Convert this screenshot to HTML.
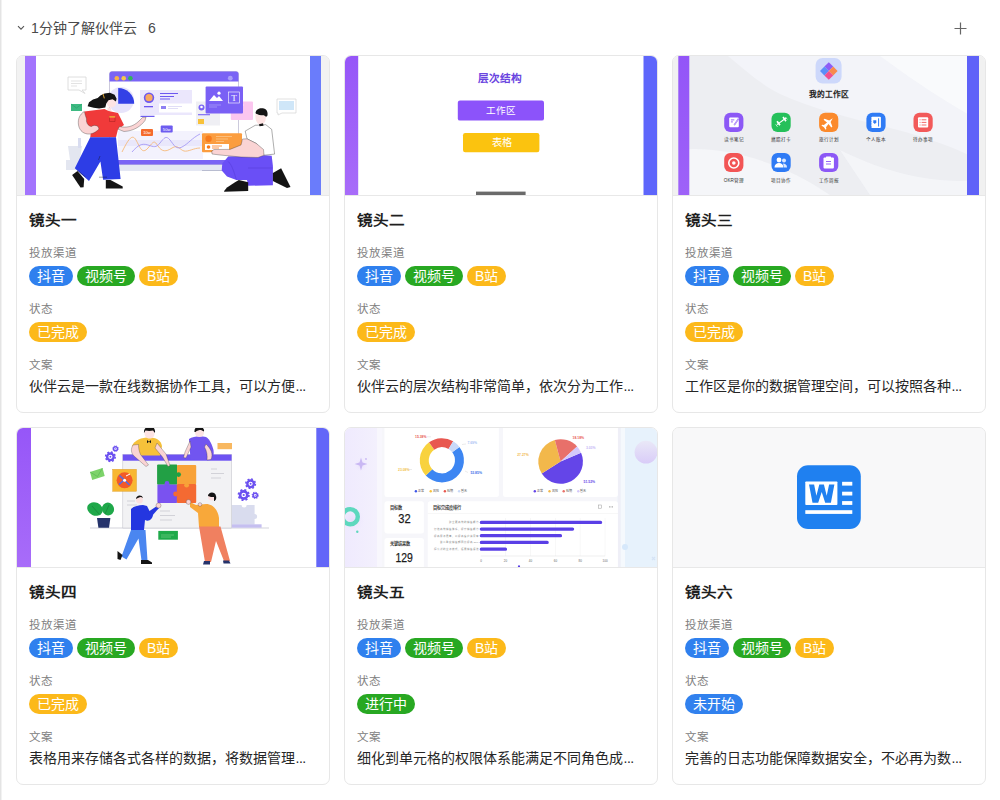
<!DOCTYPE html>
<html lang="zh-CN"><head><meta charset="utf-8"><title>1分钟了解伙伴云</title><style>
*{box-sizing:border-box;margin:0;padding:0}
html,body{width:1000px;height:800px;overflow:hidden;background:#fff}
body{position:relative;font-family:"Liberation Sans",sans-serif;color:#262626}
.lline{position:absolute;left:0;top:0;width:1px;height:800px;background:#e4e4e4;box-shadow:1px 0 0 #f2f2f2}
.hdr{position:absolute;left:0;top:0;width:1000px;height:55px}
.chev{position:absolute;left:17px;top:24px}
.htitle{position:absolute;left:31px;top:19px;font-size:14px;line-height:18px;color:#4a4a4a;white-space:nowrap}
.hcount{position:absolute;left:148px;top:19px;font-size:14px;line-height:18px;color:#4a4a4a}
.plus{position:absolute;left:954px;top:22px}
.card{position:absolute;width:314px;height:358px;border:1px solid #e7e7e7;border-radius:7px;overflow:hidden;background:#fff}
.img{position:absolute;left:0;top:0;width:312px;height:139px;overflow:hidden;background:#f2f2f2}
.img svg{position:absolute;left:0;top:0}
.div{position:absolute;left:0;top:139px;width:312px;height:1px;background:#e8e8e8}
.ttl{position:absolute;left:12px;top:153.5px;font-size:15.6px;line-height:22px;font-weight:bold;color:#1f1f1f;white-space:nowrap;transform:scaleY(0.91);transform-origin:0 0}
.lbl{position:absolute;left:12px;font-size:11.5px;letter-spacing:1px;line-height:16px;color:#808080;white-space:nowrap}
.tags{position:absolute;left:12px;display:flex;gap:4px}
.tag{height:20px;line-height:20px;padding:0 8px;border-radius:10px;color:#fff;font-size:14px;white-space:nowrap}
.b{background:#2f80ee}.g{background:#28a822}.y{background:#fcb91a}.bl{background:#3181ee}
.txt{position:absolute;left:12px;width:300px;font-size:14px;line-height:20px;color:#262626;white-space:nowrap}
.el{letter-spacing:-0.5px;margin-left:0.5px}
</style></head>
<body>
<div class="lline"></div>
<div class="hdr">
<svg class="chev" width="8" height="8" viewBox="0 0 8 8"><path d="M1 2.2 L4 5.2 L7 2.2" fill="none" stroke="#555" stroke-width="1.1"/></svg>
<div class="htitle">1分钟了解伙伴云</div>
<div class="hcount">6</div>
<svg class="plus" width="13" height="13" viewBox="0 0 13 13"><path d="M0.5 6.5H12.5M6.5 0.5V12.5" stroke="#666" stroke-width="1.2"/></svg>
</div>
<div class="card" style="left:16px;top:55px">
<div class="img"><svg width="312" height="139" viewBox="17 56 312 139">
<rect x="17" y="56" width="312" height="139" fill="#f2f2f2"/>
<rect x="25" y="56" width="296" height="139" fill="#fff"/>
<rect x="25" y="56" width="11" height="139" fill="#a374fd"/>
<rect x="310" y="56" width="11" height="139" fill="#6a7cfb"/>
<!-- left bubble -->
<path d="M68 77h18v13h-4l3 3.5l-6-3.5h-11z" fill="#fff" stroke="#d6d6d6" stroke-width="0.8"/>
<path d="M71 81h11M71 83.5h11M71 86h6" stroke="#dcdcdc" stroke-width="0.8"/>
<!-- envelope -->
<rect x="71" y="104" width="11" height="7" fill="#3dba82"/>
<path d="M71 104l5.5 4l5.5-4" fill="none" stroke="#2a9f6a" stroke-width="0.6"/>
<!-- gray cup/plant -->
<path d="M68 146h14l-2 14h-10z" fill="#e3e6f0"/>
<rect x="66" y="160" width="18" height="10" fill="#e3e6f0"/>
<rect x="78" y="138" width="3" height="10" fill="#d8dcf0"/>
<!-- window shadow/stand -->
<rect x="112" y="164" width="126" height="7" fill="#e4e7f3"/>
<rect x="202" y="170" width="20" height="1" fill="#b8bcd0"/>
<!-- browser window -->
<rect x="109.5" y="71.5" width="129" height="93" rx="2.5" fill="#fff" stroke="#a9a6c4" stroke-width="0.6"/>
<path d="M109.5 81.5v-7.5a2.5 2.5 0 0 1 2.5-2.5h124a2.5 2.5 0 0 1 2.5 2.5v7.5z" fill="#7a64f5"/>
<rect x="109.5" y="160" width="129" height="4.5" fill="#7a64f5"/>
<circle cx="116.8" cy="78.2" r="2.3" fill="#f7b24a"/>
<circle cx="123.7" cy="78.2" r="2.3" fill="#f5c84a"/>
<circle cx="130.4" cy="78.2" r="2.3" fill="#2fb45a"/>
<circle cx="230.3" cy="78.2" r="2.4" fill="#a99ff7"/>
<!-- pie -->
<circle cx="121" cy="100" r="13" fill="#e7e4fb"/>
<path d="M118.2 103.8V88A16 16 0 0 1 134.2 103.8z" fill="#3341e6"/>
<!-- avatar card -->
<rect x="140" y="90" width="52" height="25" fill="#ebe7fc"/>
<circle cx="149" cy="97.7" r="5.2" fill="#6d58f0"/>
<circle cx="149" cy="97.7" r="3.6" fill="#f8a860"/>
<rect x="144" y="106" width="9" height="1.3" fill="#6d58f0"/>
<path d="M160 93.5h18M160 96.5h14M160 99h10" stroke="#6d58f0" stroke-width="1"/>
<rect x="159" y="103.5" width="33" height="9" fill="#fff"/>
<rect x="161" y="106" width="5" height="3" fill="#8f80f3"/>
<path d="M168 106.5h14M168 108.5h10" stroke="#d9d5f5" stroke-width="0.8"/>
<!-- chart -->
<rect x="118" y="131" width="85" height="28" fill="#f3f2fd"/>
<rect x="118" y="140" width="85" height="6" fill="#e9e7fb"/>
<path d="M122 152C128 140 132 133 136 140S142 155 148 148S154 140 158 146S166 152 172 148S180 150 184 151S194 148 200 148" fill="none" stroke="#f6b36a" stroke-width="0.8"/>
<path d="M132 152C138 145 142 143 148 145S156 148 160 143S166 135 170 140S176 150 182 147S192 138 200 134" fill="none" stroke="#9d90f5" stroke-width="0.8"/>
<rect x="141" y="129" width="12" height="7" rx="1" fill="#f56b2c"/>
<text x="147" y="134.3" font-size="4.2" fill="#fff" text-anchor="middle" font-family="Liberation Sans">10w</text>
<rect x="160.7" y="125.5" width="12" height="7" rx="1" fill="#6d5cf0"/>
<text x="166.7" y="130.8" font-size="4.2" fill="#fff" text-anchor="middle" font-family="Liberation Sans">50w</text>
<!-- gray avatar card -->
<rect x="196" y="101.5" width="24" height="24" fill="#efeff4"/>
<circle cx="201.5" cy="107.5" r="3" fill="#7a64f5"/>
<circle cx="201.5" cy="107" r="1.3" fill="#fff"/>
<rect x="198" y="114" width="12" height="1.3" fill="#8a78f5"/>
<rect x="198" y="119" width="6" height="5" fill="#f8c23a"/>
<!-- pink card -->
<rect x="230.8" y="101.5" width="22.2" height="18.4" rx="1" fill="#fbc6ef"/>
<path d="M234 105h10M234 108h8M234 111h6" stroke="#fde6f8" stroke-width="0.8"/>
<!-- purple image card -->
<rect x="205.6" y="86.4" width="37.4" height="27" rx="1" fill="#7a60f5"/>
<path d="M209 101l5-6l3 3l2-2l4 5z" fill="#fff"/>
<circle cx="219" cy="93.2" r="1.6" fill="#fff"/>
<rect x="228.5" y="92" width="11" height="11" fill="none" stroke="#fff" stroke-width="0.6"/>
<text x="234" y="101" font-size="9" fill="#fff" text-anchor="middle" font-family="Liberation Serif">T</text>
<path d="M209 105h12M209 107h8" stroke="#a89cf8" stroke-width="0.8"/>
<!-- orange card -->
<rect x="202" y="133.3" width="40" height="19" rx="1" fill="#fb9d3f"/>
<circle cx="208.6" cy="138.7" r="3.2" fill="#f77a1c"/>
<path d="M216 136.5h16M216 139h12M216 141.5h8" stroke="#fdc68a" stroke-width="0.8"/>
<rect x="205" y="144" width="24" height="6" fill="#fff"/>
<circle cx="208.5" cy="147" r="1.8" fill="#f77a1c"/>
<path d="M212 146h10M212 148h7" stroke="#f77a1c" stroke-width="0.8"/>
<!-- woman -->
<ellipse cx="111.4" cy="102.3" rx="4.9" ry="5.3" fill="#fde3e3"/>
<path d="M87.6 106.2L89 102.2L93 99.5L97.7 98.1L100.4 95.4L104.5 93.4L109.9 92.7L114.6 94.8L116.6 98.8L115.9 101.5L112.6 99.2L108.5 100.2L106.3 103.5L105.3 107.6L99.1 108.6L93.7 107.8z" fill="#141414"/>
<path d="M103 93.8l1.4 4.6" stroke="#c9962e" stroke-width="1.1"/>
<path d="M107.5 107.5l3.5 0.5l0.5 3l-4 0.5z" fill="#fde3e3"/>
<path d="M84.2 111.6L104.5 109L108.5 111L118 113L124 125.1L118 129.2L116 137.3L90.3 137.3L91 130.5L85.6 121z" fill="#f03a3a"/>
<path d="M109.5 116.5h5.5v5h-5.5z" fill="none" stroke="#a51f1f" stroke-width="0.5"/>
<path d="M109.3 116.2h5.9v1.2h-5.9z" fill="#f8c23a"/>
<path d="M84.2 111.6C80 114 77.5 119 78.5 125C79.5 131 84 134.5 90 134C94 133.5 97 131 99 129L98 126.5C96 125 93 125 91.5 126.5C88 126 86 123 86.5 119z" fill="#fad4d4" stroke="#333" stroke-width="0.35"/>
<path d="M119.5 126.5C126 128 133 127 139 121L142.5 117.5L146 117L145 120.5C141 126 134 131 124 131.5L118 129.2z" fill="#fad4d4" stroke="#333" stroke-width="0.35"/>
<path d="M140.5 116.4h14" stroke="#6d5cf0" stroke-width="1.2"/>
<path d="M90.3 137.3L116 137.3L120.6 179L103.1 179.7L100.4 161.5L89 181.1L74.8 168.3z" fill="#2d3de6"/>
<path d="M77.5 170.5l8 6.5M100 156l-1.5 4M99 177.2h8" stroke="#141414" stroke-width="0.4"/>
<path d="M72.1 175L77.5 171L84.2 179.1L83.6 187.2L80.5 187.5z" fill="#141414"/>
<path d="M105.8 180L110.5 180L122.7 186.5V188.5H105.8z" fill="#141414"/>
<!-- man -->
<path d="M228.2 156.4L264 155.2L271.7 155.8L272.9 165.8L272.9 185.2L248.2 185.8L247 179.9L236.4 179.9L227 176.4L221.7 170.5L222.3 163.5z" fill="#6a4ff6"/>
<path d="M228.2 161.5C232 165 234 172 236.4 179.9M248 168h24.9" stroke="#4a32c8" stroke-width="0.35" fill="none"/>
<path d="M245.2 131.1L255.2 125.3L265.8 124.7L271.7 129.4L274.6 154.1L264 155.2L256.4 143.5L247 138.8z" fill="#fff" stroke="#333" stroke-width="0.4"/>
<path d="M247 138.8L256.4 143.5L263.5 149.5L264 155.2L258 157.5L241 157L220 155L212 154L211.8 151L214 149.5L230 149.4L241 145L242.5 139z" fill="#fad4d4" stroke="#333" stroke-width="0.35"/>
<path d="M255.5 113C256 109 260 107.5 264 108.5C267 109.5 268 112.5 267.5 115.5L266 117L264 115.5C261 115.8 258 115 256 113.8z" fill="#141414"/>
<path d="M255.5 114C255 118 256 122.5 259 124.2C262 125.2 264.5 123.5 265.5 120.5L266 117L264 115.5C261 115.8 258 115 256 113.8z" fill="#fde3e3"/>
<path d="M259 124.2l0.5 2l4 -0.5l-0.5-2.5z" fill="#141414"/>
<path d="M224.1 191L227 187.5L235 182.3L238.8 179.9L248.2 182.3V191.1L224.1 191.7z" fill="#141414"/>
<path d="M272.9 172.9L281.1 168.2L290.5 187L287 188.1L275.3 182.3L272.9 181.1z" fill="#141414"/>
<!-- right bubble -->
<path d="M277 99h19v14h-14l-4 2v-2h-1z" fill="#fff" stroke="#d4d4d4" stroke-width="0.7"/>
<rect x="279" y="101" width="15" height="9" fill="#cfe6f8"/>
</svg>
</div><div class="div"></div>
<div class="ttl">镜头一</div>
<div class="lbl" style="top:189px">投放渠道</div>
<div class="tags" style="top:210px"><span class="tag b">抖音</span><span class="tag g">视频号</span><span class="tag y">B站</span></div>
<div class="lbl" style="top:245px">状态</div>
<div class="tags" style="top:266px"><span class="tag y">已完成</span></div>
<div class="lbl" style="top:301px">文案</div>
<div class="txt" style="top:320px">伙伴云是一款在线数据协作工具，可以方便<span class="el">...</span></div>
</div><div class="card" style="left:344px;top:55px">
<div class="img"><svg width="312" height="139" viewBox="345 56 312 139">
<defs><linearGradient id="g2l" x1="0" y1="0" x2="0" y2="1"><stop offset="0" stop-color="#9656f8"/><stop offset="1" stop-color="#a86cf9"/></linearGradient></defs>
<rect x="345" y="56" width="312" height="139" fill="#fff"/>
<rect x="345" y="56" width="13.2" height="139" fill="url(#g2l)"/>
<rect x="643.5" y="56" width="13.5" height="139" fill="#5e66fb"/>
<text x="499.5" y="81.6" font-size="10.7" font-weight="bold" fill="#6a45df" text-anchor="middle">层次结构</text>
<rect x="457.8" y="100.6" width="86.2" height="20" rx="2.2" fill="#8c53fa"/>
<text x="501" y="114.3" font-size="9.6" fill="#fff" text-anchor="middle">工作区</text>
<rect x="463" y="133.1" width="76.4" height="19.2" rx="2.2" fill="#fbc30f"/>
<text x="501.5" y="145.8" font-size="10.2" fill="#fff" text-anchor="middle">表格</text>
<rect x="476" y="191.6" width="49.6" height="3.4" fill="#6a6a6a"/>
</svg>
</div><div class="div"></div>
<div class="ttl">镜头二</div>
<div class="lbl" style="top:189px">投放渠道</div>
<div class="tags" style="top:210px"><span class="tag b">抖音</span><span class="tag g">视频号</span><span class="tag y">B站</span></div>
<div class="lbl" style="top:245px">状态</div>
<div class="tags" style="top:266px"><span class="tag y">已完成</span></div>
<div class="lbl" style="top:301px">文案</div>
<div class="txt" style="top:320px">伙伴云的层次结构非常简单，依次分为工作<span class="el">...</span></div>
</div><div class="card" style="left:672px;top:55px">
<div class="img"><svg width="312" height="139" viewBox="673 56 312 139" font-family="Liberation Sans">
<defs>
<linearGradient id="g3bg" x1="0" y1="0" x2="1" y2="1"><stop offset="0" stop-color="#eceef4"/><stop offset="0.5" stop-color="#f1f2f7"/><stop offset="1" stop-color="#f5f6fa"/></linearGradient>
<linearGradient id="g3s" x1="0" y1="0" x2="1" y2="0.6"><stop offset="0" stop-color="#fff" stop-opacity="0"/><stop offset="0.5" stop-color="#fff" stop-opacity="0.7"/><stop offset="1" stop-color="#fff" stop-opacity="0"/></linearGradient>
<linearGradient id="g3l" x1="0" y1="0" x2="0" y2="1"><stop offset="0" stop-color="#9355f8"/><stop offset="1" stop-color="#9e62f8"/></linearGradient>
</defs>
<rect x="673" y="56" width="312" height="139" fill="#f1f1f1"/>
<rect x="678" y="56" width="301" height="139" fill="#edeef2"/>
<path d="M728 56C745 70 760 84 780 94C810 108 850 118 890 128C930 138 960 150 979 160V56z" fill="#f3f4f9"/>
<path d="M880 56H979V120C950 105 920 85 880 56z" fill="#fafbfd" opacity="0.8"/>
<path d="M678 150C720 145 780 160 830 195H678z" fill="#f6f7fa" opacity="0.8"/>
<path d="M840 150C880 170 930 185 979 180V195H870z" fill="#f7f8fb" opacity="0.7"/>
<rect x="678.3" y="56" width="11" height="139" fill="url(#g3l)"/>
<rect x="967" y="56" width="12" height="139" fill="#5f62f8"/>
<rect x="815.6" y="57.9" width="26" height="25.6" rx="7" fill="#cdd8fb"/>
<g transform="translate(828.8 70.4)">
<path d="M0 -8.2L4.4 -3.8L0 0.6L-4.4 -3.8z" fill="#8d5cf6"/>
<path d="M-4.4 -3.8L0 0.6L-4.4 5L-8.8 0.6z" fill="#5b8ef8"/>
<path d="M4.4 -3.8L8.8 0.6L4.4 5L0 0.6z" fill="#f88a4c"/>
<path d="M0 0.6L4.4 5L0 9.4L-4.4 5z" fill="#f0508f"/>
</g>
<text x="828.8" y="97.4" font-size="7.7" font-weight="bold" fill="#222" text-anchor="middle">我的工作区</text>
<g>
<rect x="724.2" y="112.8" width="19.2" height="19.2" rx="6" fill="#8c58f6"/>
<rect x="729.2" y="117.6" width="9.6" height="9.6" rx="1" fill="#fff"/>
<path d="M730.9 119.9h3.4M730.9 121.9h2" stroke="#8c58f6" stroke-width="0.9"/>
<path d="M734.2 125.2L738.6 118.6" stroke="#8c58f6" stroke-width="1.5"/><path d="M734.2 125.2L738.6 118.6" stroke="#fff" stroke-width="0.5"/>
<rect x="771.5" y="112.8" width="19.2" height="19.2" rx="6" fill="#25c05a"/>
<path d="M777 124.6L786 118" stroke="#fff" stroke-width="1.1"/>
<path d="M777.04 121.27L779.96 125.33M783.04 117.07L785.96 121.13" stroke="#fff" stroke-width="1.7"/>
<path d="M775.7 124.4L777.5 126.8M785.5 117L787.3 119.4" stroke="#fff" stroke-width="0.7"/>
<rect x="819.1" y="112.8" width="19.2" height="19.2" rx="6" fill="#fb8a2c"/>
<path d="M823 122.4l4-1l2-4.5h1.5l-0.5 4.5l4-0.5l1-1.5h1l-0.5 3l0.5 3h-1l-1-1.5l-4-0.5l0.5 4.5h-1.5l-2-4.5z" fill="#fff" transform="rotate(135 828.7 122.4)"/>
<rect x="866.4" y="112.8" width="19.2" height="19.2" rx="6" fill="#2f7bf5"/>
<rect x="871.3" y="116.8" width="9.6" height="11.2" rx="1" fill="#fff"/>
<path d="M878.6 118.3v8.2" stroke="#2f7bf5" stroke-width="1"/>
<path d="M873.3 120.3h3v2.2l-1.5 1.5l-1.5-1.5z" fill="#2f7bf5"/>
<path d="M871 118.5v0.8M871 121v0.8M871 123.5v0.8M871 126v0.8" stroke="#2f7bf5" stroke-width="0.8"/>
<rect x="913.5" y="112.8" width="19.2" height="19.2" rx="6" fill="#f25a5a"/>
<rect x="918" y="117.2" width="10.2" height="10.4" rx="1" fill="#fff"/>
<path d="M921.6 119.8h4.8M921.6 122.4h4.8M921.6 125h4.8M919.6 119.8h0.9M919.6 122.4h0.9M919.6 125h0.9" stroke="#f25a5a" stroke-width="0.9"/>
<rect x="724.2" y="153.1" width="19.2" height="19" rx="6" fill="#f25555"/>
<circle cx="733.8" cy="163" r="5" fill="none" stroke="#fff" stroke-width="1.6"/>
<circle cx="733.8" cy="163" r="1.8" fill="#fff"/>
<rect x="771.5" y="153.1" width="19.2" height="19" rx="6" fill="#2f7bf5"/>
<circle cx="779" cy="160" r="2.4" fill="#fff"/><path d="M774.5 167.5c0-3 2-4.5 4.5-4.5s4.5 1.5 4.5 4.5z" fill="#fff"/>
<circle cx="784" cy="160.5" r="2" fill="#dbe8ff"/><path d="M783 163.5c2 0 4 1 4 4h-3z" fill="#dbe8ff"/>
<rect x="819.1" y="153.1" width="19.2" height="19" rx="6" fill="#8c58f6"/>
<rect x="823.5" y="157.5" width="10.4" height="11" rx="1" fill="#fff"/>
<rect x="826" y="156.5" width="5" height="2" rx="0.5" fill="#fff"/>
<path d="M826 161.5h5M826 164h5" stroke="#8c58f6" stroke-width="0.9"/>
</g>
<g font-size="4.6" fill="#333" text-anchor="middle">
<text x="733.8" y="141.3">读书笔记</text>
<text x="781.1" y="141.3">燃脂打卡</text>
<text x="828.7" y="141.3">旅行计划</text>
<text x="876" y="141.3">个人账本</text>
<text x="923.1" y="141.3">待办事项</text>
<text x="733.8" y="181.6">OKR管理</text>
<text x="781.1" y="181.6">项目协作</text>
<text x="828.7" y="181.6">工作周报</text>
</g>
</svg>
</div><div class="div"></div>
<div class="ttl">镜头三</div>
<div class="lbl" style="top:189px">投放渠道</div>
<div class="tags" style="top:210px"><span class="tag b">抖音</span><span class="tag g">视频号</span><span class="tag y">B站</span></div>
<div class="lbl" style="top:245px">状态</div>
<div class="tags" style="top:266px"><span class="tag y">已完成</span></div>
<div class="lbl" style="top:301px">文案</div>
<div class="txt" style="top:320px">工作区是你的数据管理空间，可以按照各种<span class="el">...</span></div>
</div><div class="card" style="left:16px;top:427px">
<div class="img"><svg width="312" height="139" viewBox="17 428 312 139" font-family="Liberation Sans">
<defs><linearGradient id="g4l" x1="0" y1="0" x2="0" y2="1"><stop offset="0" stop-color="#9656f8"/><stop offset="1" stop-color="#a86cf9"/></linearGradient></defs>
<rect x="17" y="428" width="312" height="139" fill="#fff"/>
<rect x="17" y="428" width="14" height="139" fill="url(#g4l)"/>
<rect x="316.3" y="428" width="12.7" height="139" fill="#6366f8"/>
<!-- floor -->
<rect x="90" y="527.6" width="179" height="0.8" fill="#c9c9d3"/>
<!-- gray puzzle & stand -->
<path d="M231.6 505h10a2.5 2.5 0 0 0 5 0h8v9a2.5 2.5 0 0 1 0 5v5.5h-23z" fill="#d9dcee"/>
<rect x="231.6" y="524.3" width="30" height="3.4" fill="#c5bff0"/>
<!-- board -->
<rect x="122.8" y="454.5" width="108.8" height="73.5" fill="#f2f2f4" stroke="#bdbdc6" stroke-width="0.5"/>
<rect x="122.8" y="454.5" width="108.8" height="6.2" fill="#6d52f2"/>
<path d="M211 469h6M211 473.5h13M211 478h10M160 511h10M160 515.5h15M160 520h12M127 501h8M127 505h10" stroke="#d2d2d8" stroke-width="1"/>
<!-- gears -->
<circle cx="110.4" cy="456.8" r="3.29" fill="none" stroke="#6b50f0" stroke-width="2.38"/><circle cx="110.4" cy="456.8" r="4.77" fill="none" stroke="#6b50f0" stroke-width="1.59" stroke-dasharray="1.87 1.87"/><circle cx="110.4" cy="456.8" r="0.95" fill="#6b50f0"/>
<circle cx="115.5" cy="448.7" r="1.92" fill="none" stroke="#6b50f0" stroke-width="1.40"/><circle cx="115.5" cy="448.7" r="2.79" fill="none" stroke="#6b50f0" stroke-width="0.93" stroke-dasharray="1.10 1.10"/><circle cx="115.5" cy="448.7" r="0.56" fill="#6b50f0"/>
<circle cx="250.6" cy="483.8" r="3.29" fill="none" stroke="#6b50f0" stroke-width="2.38"/><circle cx="250.6" cy="483.8" r="4.77" fill="none" stroke="#6b50f0" stroke-width="1.59" stroke-dasharray="1.87 1.87"/><circle cx="250.6" cy="483.8" r="0.95" fill="#6b50f0"/>
<circle cx="243.7" cy="495" r="3.60" fill="none" stroke="#6b50f0" stroke-width="2.61"/><circle cx="243.7" cy="495" r="5.22" fill="none" stroke="#6b50f0" stroke-width="1.74" stroke-dasharray="2.05 2.05"/><circle cx="243.7" cy="495" r="1.04" fill="#6b50f0"/>
<circle cx="255.2" cy="495.3" r="2.11" fill="none" stroke="#6b50f0" stroke-width="1.53"/><circle cx="255.2" cy="495.3" r="3.06" fill="none" stroke="#6b50f0" stroke-width="1.02" stroke-dasharray="1.20 1.20"/><circle cx="255.2" cy="495.3" r="0.61" fill="#6b50f0"/>
<!-- envelope -->
<path d="M90 472l12.5-4l2.2 8l-12.5 4z" fill="#7dd36a"/>
<path d="M90 472l7.5 4.5l5-8.5" fill="none" stroke="#4fae48" stroke-width="0.5"/>
<!-- orange tag top right -->
<rect x="217.5" y="443" width="14.5" height="6.2" fill="#f8b860"/>
<!-- frame with wheel -->
<rect x="112.7" y="469.3" width="23.8" height="22" fill="#f8b731" stroke="#d99a1e" stroke-width="0.4"/>
<circle cx="124.6" cy="480.3" r="8" fill="#f25a28"/>
<path d="M119.5 475.5l10 9.5M119 484.5l4.5-4" stroke="#4a6cf0" stroke-width="1.4"/>
<path d="M126 476l4-2" stroke="#fff" stroke-width="1"/>
<circle cx="124.6" cy="480.3" r="1.5" fill="#fff"/>
<!-- puzzle -->
<rect x="157.1" y="464.6" width="20.2" height="20.2" rx="1" fill="#22a045"/>
<rect x="177" y="465" width="19.2" height="19.2" rx="1" fill="#f8a238"/>
<rect x="157.4" y="484.6" width="19.8" height="18.4" rx="1" fill="#7a52f0"/>
<rect x="176.8" y="484" width="19.4" height="19" rx="1" fill="#f46a32"/>
<circle cx="178.6" cy="474.6" r="2.4" fill="#22a045"/>
<circle cx="186.6" cy="485.2" r="2.4" fill="#f8a238"/>
<circle cx="167" cy="483.4" r="2.4" fill="#7a52f0"/>
<circle cx="175.6" cy="494" r="2.4" fill="#f46a32"/>
<!-- top woman -->
<path d="M132 446C134 440 142 437.5 149 437.5C156 437.5 161 440 162 446L160 455.5L134 455.5z" fill="#f6c13a"/>
<path d="M144.5 433.5C144.5 429.5 147 428 149.5 428C152.5 428 154.5 430 154.5 433.5C154.5 436.5 152.5 438.5 149.5 438.5C147 438.5 144.5 436.5 144.5 433.5z" fill="#fde3e3"/>
<path d="M144 433C143.5 428.5 146.5 426.5 150 426.5C153.5 426.5 155.5 429 155 433L153 430.5C150.5 431 148 431 145.5 430.5z" fill="#141414"/>
<path d="M145 427l-1.5-1.8M147 426.5l-0.2-1.8" stroke="#141414" stroke-width="1"/>
<path d="M147 440l2 1.8l2-1.8v3.2l-2-1.4l-2 1.4z" fill="#141414"/>
<path d="M133 445C130.5 449 131 453 134 456L146 466.5L148.5 465L140.5 454.5C139 451 138.5 448 138.5 444.5z" fill="#fad4d4" stroke="#333" stroke-width="0.3"/>
<path d="M157 443L166 454L170 465.5L168 466.5L162.5 457L155 448z" fill="#fad4d4" stroke="#333" stroke-width="0.3"/>
<!-- top purple person -->
<path d="M189 439C193 436 201 435.5 206 437C210 439 212 445 213.5 450C214.5 456 212 459.5 208 460L190.5 459.5z" fill="#7155f0"/>
<path d="M195 432.5C195 429 197 427.5 199.5 427.5C202 427.5 204 429.5 204 432.5C204 435.5 202 437 199.5 437C197 437 195 435.5 195 432.5z" fill="#fde3e3"/>
<path d="M194.5 432C194 428 197 426 200 426.5C203 427 204.5 429.5 204 431.5L201 430C199 430 197 430.5 195.5 432z" fill="#141414"/>
<path d="M190 441L185 452L183.5 457.5L186 458L191 447z" fill="#fad4d4" stroke="#333" stroke-width="0.3"/>
<path d="M206 444C211 449 213.5 454 211 459.5L207 460C207.5 456 207 451 204.5 447z" fill="#fad4d4" stroke="#333" stroke-width="0.3"/>
<!-- green tag -->
<rect x="158.3" y="530.9" width="19.6" height="8.8" fill="#1faa4a"/>
<path d="M161 535h13M161 537h10" stroke="#7fd58f" stroke-width="0.6"/>
<!-- plant -->
<ellipse cx="95" cy="509" rx="8" ry="6.5" fill="#1fa84a" transform="rotate(25 95 509)"/>
<ellipse cx="108" cy="509" rx="6" ry="6.5" fill="#1fa84a" transform="rotate(-20 108 509)"/>
<path d="M92 506l7 8M109 505l-4 9" stroke="#136b2f" stroke-width="0.4"/>
<path d="M97 518h13.4l-1.4 9.8h-10.6z" fill="#25336b"/>
<!-- blue man -->
<path d="M131 509c3-3 8-4 12-4l4 1l3 6l3 2c0 5-4 8-8 6l-1 10h-13z" fill="#2436e0"/>
<path d="M148 512l9-6l2 2l-8 9z" fill="#2436e0"/>
<circle cx="158.5" cy="505.5" r="2.5" fill="#fbd3d3" stroke="#333" stroke-width="0.3"/>
<circle cx="139.5" cy="500" r="3.4" fill="#fbe0e0"/>
<path d="M136 499c0-4 6-5 7-1l-2-1c-2 0-3 1-5 2z" fill="#141414"/>
<path d="M131 530h14.5l2 30.5h-6l-3-22l-12 21l-5-3z" fill="#4a86f0"/>
<path d="M117.5 551l5 4l-2 5l-3-1z" fill="#141414"/>
<path d="M141 560h7l4 2.5v1.5h-11z" fill="#141414"/>
<!-- orange man -->
<path d="M190 502l6 3l10-1c7 0 12 6 13 14l0 9h-20l-1-14l-8-6z" fill="#f8a83a"/>
<circle cx="188.5" cy="502" r="2.4" fill="#fbd3d3" stroke="#333" stroke-width="0.3"/>
<circle cx="200" cy="504.5" r="1.8" fill="#fbd3d3" stroke="#333" stroke-width="0.3"/>
<circle cx="211.5" cy="497" r="3.4" fill="#fbe0e0"/>
<path d="M208 496c0-4 7-5 8 0c1 3 -1 5-2 5l0-4c-2 0-4 0-6-1z" fill="#141414"/>
<path d="M199 526.4h21.5l9.5 34.6h-6l-8-20l-5 21h-6z" fill="#f08060"/>
<path d="M204 561h6v3.5h-7z" fill="#25336b"/>
<path d="M223 560.5h6l1.5 3h-7z" fill="#25336b"/>
</svg>
</div><div class="div"></div>
<div class="ttl">镜头四</div>
<div class="lbl" style="top:189px">投放渠道</div>
<div class="tags" style="top:210px"><span class="tag b">抖音</span><span class="tag g">视频号</span><span class="tag y">B站</span></div>
<div class="lbl" style="top:245px">状态</div>
<div class="tags" style="top:266px"><span class="tag y">已完成</span></div>
<div class="lbl" style="top:301px">文案</div>
<div class="txt" style="top:320px">表格用来存储各式各样的数据，将数据管理<span class="el">...</span></div>
</div><div class="card" style="left:344px;top:427px">
<div class="img"><svg width="312" height="139" viewBox="345 428 312 139" font-family="Liberation Sans">
<defs>
<linearGradient id="g5l" x1="0" y1="0" x2="1" y2="0"><stop offset="0" stop-color="#efeafe"/><stop offset="1" stop-color="#f3f0fd"/></linearGradient>
<linearGradient id="g5c" x1="0" y1="0" x2="0" y2="1"><stop offset="0" stop-color="#e9e8f7"/><stop offset="1" stop-color="#d9ccf8"/></linearGradient>
<radialGradient id="g5p" cx="0.5" cy="0.5" r="0.5"><stop offset="0" stop-color="#e9ddfb"/><stop offset="1" stop-color="#efeafe" stop-opacity="0"/></radialGradient>
</defs>
<rect x="345" y="428" width="312" height="139" fill="#f6f6fa"/>
<rect x="345" y="428" width="32" height="139" fill="url(#g5l)"/>
<rect x="377" y="428" width="5" height="139" fill="#f8f7fd"/>
<rect x="617.8" y="428" width="39.2" height="139" fill="#e7f2fc"/>
<rect x="617.8" y="428" width="3" height="139" fill="#efeff7"/>
<rect x="620.8" y="428" width="4.2" height="139" fill="#f5f9fd"/>
<circle cx="646" cy="452.2" r="11.4" fill="url(#g5c)"/>
<circle cx="625" cy="547" r="3" fill="#d6e8fb"/>
<path d="M652 557l3 3M655 557l-3 3" stroke="#d5e3f5" stroke-width="1.2"/>
<!-- left deco -->
<circle cx="361" cy="465" r="7" fill="url(#g5p)"/>
<path d="M361 457.5l1.5 5l5 1.5l-5 1.5l-1.5 5l-1.5-5l-5-1.5l5-1.5z" fill="#c9b8f3"/>
<circle cx="366" cy="459" r="0.9" fill="#c9b8f3"/>
<circle cx="352" cy="520" r="13" fill="url(#g5p)"/>
<circle cx="350.2" cy="516.7" r="7.6" fill="none" stroke="#5ed8be" stroke-width="4.4"/>
<circle cx="357.3" cy="531.8" r="1.2" fill="#5ed8be"/>
<!-- panels -->
<rect x="384.5" y="425" width="114.4" height="72.1" rx="2.5" fill="#fff"/>
<rect x="503" y="425" width="114.9" height="72.1" rx="2.5" fill="#fff"/>
<rect x="384.5" y="501.2" width="39.4" height="32.4" rx="2.5" fill="#fff"/>
<rect x="384.5" y="538" width="39.4" height="35" rx="2.5" fill="#fff"/>
<rect x="427.8" y="501.2" width="190.1" height="70" rx="2.5" fill="#fff"/>
<!-- donut -->
<g transform="translate(441.85 460.3)">
<path d="M17.56 -13.42A22.1 22.1 0 0 1 -16.08 15.16L-9.53 8.98A13.1 13.1 0 0 0 10.41 -7.96z" fill="#3d86f2"/>
<path d="M-16.08 15.16A22.1 22.1 0 0 1 -12.83 -17.99L-7.61 -10.66A13.1 13.1 0 0 0 -9.53 8.98z" fill="#f8d23e"/>
<path d="M-12.83 -17.99A22.1 22.1 0 0 1 11.32 -18.98L6.71 -11.25A13.1 13.1 0 0 0 -7.61 -10.66z" fill="#e85750"/>
<path d="M11.32 -18.98A22.1 22.1 0 0 1 17.56 -13.42L10.41 -7.96A13.1 13.1 0 0 0 6.71 -11.25z" fill="#c9d9f8"/>
</g>
<g font-size="3.4" font-weight="bold">
<text x="415" y="438.2" fill="#e85750">15.38%</text>
<text x="467.4" y="444" fill="#a9c2f3">7.69%</text>
<text x="398" y="470.7" fill="#f2c24a">23.08%</text>
<text x="470.4" y="473.7" fill="#3d6fe8">53.85%</text>
<text x="572.6" y="438.7" fill="#e85750">18.18%</text>
<text x="585.9" y="449.2" fill="#c5b5f5">3.03%</text>
<text x="517.2" y="455.9" fill="#f2b84b">27.27%</text>
<text x="583.6" y="483.1" fill="#6445e8">51.52%</text>
</g>
<path d="M466 444l-4 0.5M408 469.5h4M468 472.5l-3-1.5M427 436.8h4" stroke="#ccc" stroke-width="0.4"/>
<!-- legend 1 -->
<g font-size="3" fill="#555">
<circle cx="415.9" cy="491.3" r="1.2" fill="#3d56e8"/><text x="418" y="492.4">正常</text>
<circle cx="430.7" cy="491.3" r="1.2" fill="#f8c23e"/><text x="432.8" y="492.4">风险</text>
<circle cx="444.9" cy="491.3" r="1.2" fill="#e85750"/><text x="447" y="492.4">延期</text>
<circle cx="459.1" cy="491.3" r="1.2" fill="#c9d9f8"/><text x="461.2" y="492.4">暂无</text>
<circle cx="534.8" cy="491.3" r="1.2" fill="#6445e8"/><text x="536.9" y="492.4">正常</text>
<circle cx="549.5" cy="491.3" r="1.2" fill="#f2b84b"/><text x="551.6" y="492.4">风险</text>
<circle cx="563.7" cy="491.3" r="1.2" fill="#e8706a"/><text x="565.8" y="492.4">延期</text>
<circle cx="578.3" cy="491.3" r="1.2" fill="#d4c8fb"/><text x="580.4" y="492.4">暂无</text>
</g>
<!-- pie -->
<g transform="translate(560.6 461.5)">
<path d="M0 0L20.47 -8.86A22.3 22.3 0 0 1 -18.83 11.95z" fill="#6445e8"/>
<path d="M0 0L-18.83 11.95A22.3 22.3 0 0 1 -5.77 -21.54z" fill="#f2b84b"/>
<path d="M0 0L-5.77 -21.54A22.3 22.3 0 0 1 16.52 -14.98z" fill="#e8706a"/>
<path d="M0 0L16.52 -14.98A22.3 22.3 0 0 1 20.47 -8.86z" fill="#d4c8fb"/>
</g>
<!-- cards text -->
<text x="389.8" y="508.6" font-size="4.2" font-weight="bold" fill="#333">目标数</text>
<text x="398.2" y="522.9" font-size="13.4" fill="#1a1a1a" stroke="#1a1a1a" stroke-width="0.25" textLength="12.4" lengthAdjust="spacingAndGlyphs">32</text>
<text x="389.8" y="545.3" font-size="4.2" font-weight="bold" fill="#333">关键结果数</text>
<text x="395.5" y="561.6" font-size="13.4" fill="#1a1a1a" stroke="#1a1a1a" stroke-width="0.25" textLength="17.4" lengthAdjust="spacingAndGlyphs">129</text>
<text x="433.1" y="508.6" font-size="4.2" font-weight="bold" fill="#333">目标完成度排行</text>
<rect x="598.5" y="505" width="3.2" height="3.2" fill="none" stroke="#999" stroke-width="0.5"/>
<path d="M609 506.9h0.8M610.6 506.9h0.8M612.2 506.9h0.8" stroke="#666" stroke-width="0.8"/>
<rect x="427.8" y="513.3" width="190.1" height="0.5" fill="#eee"/>
<path d="M505.5 518v38M530.5 518v38M555.4 518v38M580.2 518v38M605.1 518v38" stroke="#eee" stroke-width="0.5"/>
<path d="M480.7 556h124.4" stroke="#ddd" stroke-width="0.5"/>
<g stroke="#5a3fe6" stroke-width="3.2" stroke-linecap="round">
<path d="M481.3 522.4H600.6M481.3 529.1H572.6M481.3 535.7H560.5M481.3 542.4H547.2M481.3 549.2H505.5"/>
</g>
<g font-size="2.5" fill="#8a8a8a" text-anchor="end">
<text x="478.5" y="523.3">建立更高效的销售能力</text>
<text x="478.5" y="530">打造高效销售体系，提升销售能力</text>
<text x="478.5" y="536.6">提高服务质量，以提高客户满意率</text>
<text x="478.5" y="543.3">第二季度销售额同比提高30%</text>
<text x="478.5" y="550.1">探索新的业务模式，拓展销售渠道</text>
</g>
<g font-size="3" fill="#666" text-anchor="middle">
<text x="481.1" y="561.6">0</text><text x="505.5" y="561.6">20</text><text x="530.5" y="561.6">40</text><text x="555.4" y="561.6">60</text><text x="580.2" y="561.6">80</text><text x="605.1" y="561.6">100</text>
</g>
<circle cx="519" cy="566.4" r="1.1" fill="#5a3fe6"/>
</svg>
</div><div class="div"></div>
<div class="ttl">镜头五</div>
<div class="lbl" style="top:189px">投放渠道</div>
<div class="tags" style="top:210px"><span class="tag b">抖音</span><span class="tag g">视频号</span><span class="tag y">B站</span></div>
<div class="lbl" style="top:245px">状态</div>
<div class="tags" style="top:266px"><span class="tag g">进行中</span></div>
<div class="lbl" style="top:301px">文案</div>
<div class="txt" style="top:320px">细化到单元格的权限体系能满足不同角色成<span class="el">...</span></div>
</div><div class="card" style="left:672px;top:427px">
<div class="img"><svg width="312" height="139" viewBox="673 428 312 139">
<rect x="673" y="428" width="312" height="139" fill="#f8f8f9"/>
<rect x="797" y="465.2" width="63.8" height="63.8" rx="11" fill="#1f80f0"/>
<rect x="805.3" y="481.5" width="32.1" height="23.5" rx="0.8" fill="#fff"/>
<path d="M809 484.4H814.1L816.4 495.8L819.3 484.4H823.9L826.7 495.8L829.1 484.4H834.4L830.9 502.8H825.2L821.7 491.9L818.2 502.8H812.5Z" fill="#1f80f0"/>
<rect x="842.1" y="481.8" width="10.2" height="3.8" fill="#fff"/>
<rect x="842.1" y="491.7" width="10.2" height="3.8" fill="#fff"/>
<rect x="842.1" y="501.1" width="10.2" height="3.8" fill="#fff"/>
<rect x="805.3" y="510.2" width="47" height="3.7" fill="#fff"/>
</svg>
</div><div class="div"></div>
<div class="ttl">镜头六</div>
<div class="lbl" style="top:189px">投放渠道</div>
<div class="tags" style="top:210px"><span class="tag b">抖音</span><span class="tag g">视频号</span><span class="tag y">B站</span></div>
<div class="lbl" style="top:245px">状态</div>
<div class="tags" style="top:266px"><span class="tag bl">未开始</span></div>
<div class="lbl" style="top:301px">文案</div>
<div class="txt" style="top:320px">完善的日志功能保障数据安全，不必再为数<span class="el">...</span></div>
</div>
</body></html>
